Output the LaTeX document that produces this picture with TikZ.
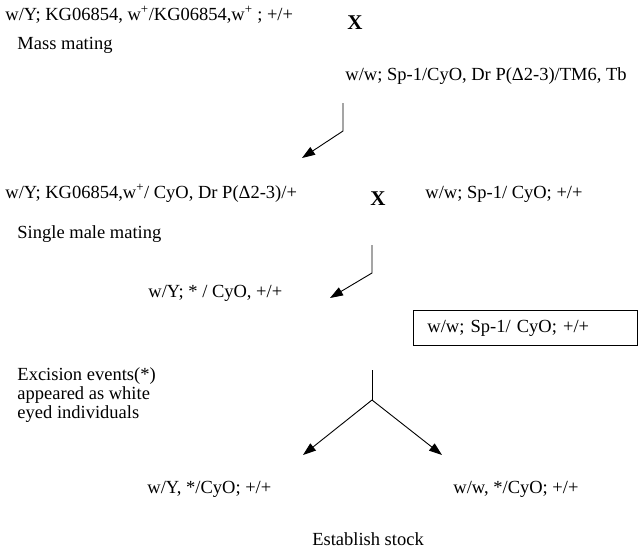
\documentclass[tikz,border=0pt]{standalone}
\usepackage{fontspec}
\setmainfont{Liberation Serif}
\usepackage{tikz}
\usetikzlibrary{arrows.meta,positioning}

\begin{document}
\begin{tikzpicture}[
    x = 1pt, y = -1pt, % pixel like units
    > = {Triangle[length=13pt,width=9pt]}, % arrow head style
    line width = 0.9pt % line style
    ]

    \tikzset{gene/.style={
    anchor = base west,
    inner sep = 0pt,
    font = \fontsize{18.5}{22}\selectfont
    }}
    \tikzset{cross/.style={
    inner sep = 0pt,
    font = \fontsize{21}{24}\selectfont\bfseries
    }}
    \tikzset{stockbox/.style={
    draw = black,
    line width = 0.9pt,
    inner xsep = 14pt,
    inner ysep = 9pt,
    text width = 196pt,
    align = left,
    anchor = base west,
    font = \fontsize{18.5}{22}\selectfont
    }}

    \useasboundingbox (0,0) rectangle (642,552);

    % parents of the mass mating
    \node[gene] (male1) at (5,20) {w/Y; KG06854, w\textsuperscript{+}/KG06854,w\textsuperscript{+} ; +/+};
    \node[cross] (x1) at (355,23) {X};
    \node[gene] (mass) at (17,49) {Mass mating};
    \node[gene] (female1) at (345,80) {w/w; Sp-1/CyO, Dr P(Δ2-3)/TM6, Tb};

    \coordinate (a1top) at (343,103);
    \coordinate (a1bend) at (343,131);
    \coordinate (a1tip) at (302,158);
    \draw[->] (a1top) -- (a1bend) -- (a1tip);

    % single male mating
    \node[gene] (male2) at (5,198) {w/Y; KG06854,w\textsuperscript{+}/ CyO, Dr P(Δ2-3)/+};
    \node[cross] (x2) at (378,199) {X};
    \node[gene] (female2) at (425,198) {w/w; Sp-1/ CyO; +/+};
    \node[gene] (single) at (17,238) {Single male mating};

    \coordinate (a2top) at (372,245);
    \coordinate (a2bend) at (372,273);
    \coordinate (a2tip) at (330,298);
    \draw[->] (a2top) -- (a2bend) -- (a2tip);

    \node[gene] (male3) at (148,297) {w/Y; * / CyO, +/+};
    \node[stockbox] (female3) at (413,332) {w/w; Sp-1/ CyO; +/+};

    % excision events
    \node[gene] (exc1) at (17,380) {Excision events(*)};
    \node[gene] (exc2) at (17,399) {appeared as white};
    \node[gene] (exc3) at (17,418) {eyed individuals};

    \coordinate (ftop) at (372,370);
    \coordinate (fork) at (372,400);
    \coordinate (fleft) at (303,455);
    \coordinate (fright) at (442,455);
    \draw (ftop) -- (fork);
    \draw[->] (fork) -- (fleft);
    \draw[->] (fork) -- (fright);

    \node[gene] (stock1) at (147,493) {w/Y, */CyO; +/+};
    \node[gene] (stock2) at (453,493) {w/w, */CyO; +/+};
    \node[gene, anchor=base] (establish) at (368,545) {Establish stock};
\end{tikzpicture}
\end{document}
